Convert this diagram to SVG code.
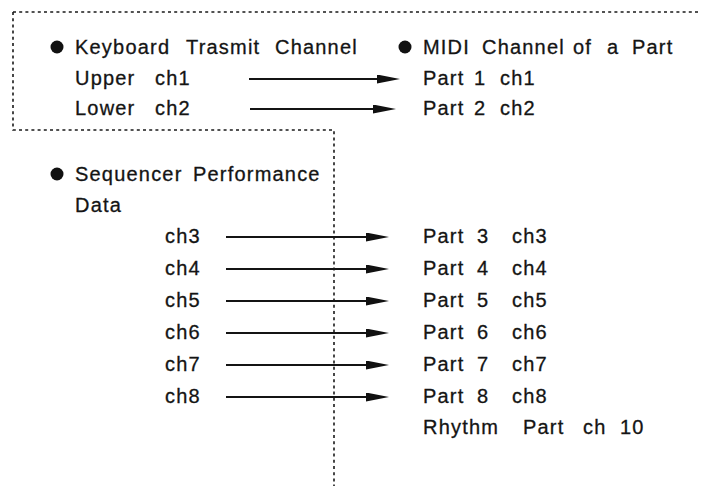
<svg xmlns="http://www.w3.org/2000/svg" width="701" height="488" viewBox="0 0 701 488">
<style>
text{font-family:"Liberation Sans",Arial,sans-serif;font-size:20px;letter-spacing:1.2px;fill:#141414;stroke:#141414;stroke-width:0.3}
.dot{fill:none;stroke:#1a1a1a;stroke-width:1.6;stroke-dasharray:3 3.2}
.arr{stroke:#141414;stroke-width:1.8;fill:none;marker-end:url(#ah)}
.bul{fill:#111}
</style>
<defs>
<marker id="ah" markerUnits="userSpaceOnUse" markerWidth="24" markerHeight="10" refX="12" refY="4.5" orient="auto">
<path d="M0,0 L23,4.5 L0,9 Z" fill="#111"/>
</marker>
</defs>
<rect width="701" height="488" fill="#fff"/>
<g id="frame">
<path class="dot" d="M13,12 H701"/>
<path class="dot" d="M13,12 V130 H334 V486"/>
</g>
<g id="keyboard-channel">
<circle class="bul" cx="57" cy="47" r="6.5"/>
<text y="54"><tspan x="75">Keyboard</tspan> <tspan x="186">Trasmit</tspan> <tspan x="275">Channel</tspan></text>
<text y="85"><tspan x="75">Upper</tspan> <tspan x="155">ch1</tspan></text>
<text y="115"><tspan x="75">Lower</tspan> <tspan x="155">ch2</tspan></text>
</g>
<g id="midi-channel">
<circle class="bul" cx="405" cy="47" r="6.5"/>
<text y="54"><tspan x="423">MIDI</tspan> <tspan x="482">Channel</tspan> <tspan x="573">of</tspan> <tspan x="607">a</tspan> <tspan x="632">Part</tspan></text>
<text y="85"><tspan x="423">Part</tspan> <tspan x="474">1</tspan> <tspan x="500">ch1</tspan></text>
<text y="115"><tspan x="423">Part</tspan> <tspan x="474">2</tspan> <tspan x="500">ch2</tspan></text>
</g>
<g id="sequencer-data">
<circle class="bul" cx="57" cy="174" r="6.5"/>
<text y="181"><tspan x="75">Sequencer</tspan> <tspan x="193">Performance</tspan></text>
<text x="75" y="212">Data</text>
<text x="165" y="243">ch3</text>
<text x="165" y="275">ch4</text>
<text x="165" y="307">ch5</text>
<text x="165" y="339">ch6</text>
<text x="165" y="371">ch7</text>
<text x="165" y="403">ch8</text>
</g>
<g id="parts">
<text y="243"><tspan x="423">Part</tspan> <tspan x="477">3</tspan> <tspan x="512">ch3</tspan></text>
<text y="275"><tspan x="423">Part</tspan> <tspan x="477">4</tspan> <tspan x="512">ch4</tspan></text>
<text y="307"><tspan x="423">Part</tspan> <tspan x="477">5</tspan> <tspan x="512">ch5</tspan></text>
<text y="339"><tspan x="423">Part</tspan> <tspan x="477">6</tspan> <tspan x="512">ch6</tspan></text>
<text y="371"><tspan x="423">Part</tspan> <tspan x="477">7</tspan> <tspan x="512">ch7</tspan></text>
<text y="403"><tspan x="423">Part</tspan> <tspan x="477">8</tspan> <tspan x="512">ch8</tspan></text>
<text y="434"><tspan x="423">Rhythm</tspan> <tspan x="523">Part</tspan> <tspan x="583">ch</tspan> <tspan x="620">10</tspan></text>
</g>
<g id="connectors">
<line class="arr" x1="249" y1="79" x2="389" y2="79"/>
<line class="arr" x1="250" y1="109" x2="385" y2="109"/>
<line class="arr" x1="226" y1="237" x2="378" y2="237"/>
<line class="arr" x1="226" y1="269" x2="378" y2="269"/>
<line class="arr" x1="226" y1="301" x2="378" y2="301"/>
<line class="arr" x1="226" y1="333" x2="378" y2="333"/>
<line class="arr" x1="226" y1="365" x2="378" y2="365"/>
<line class="arr" x1="226" y1="397" x2="378" y2="397"/>
</g>
</svg>
